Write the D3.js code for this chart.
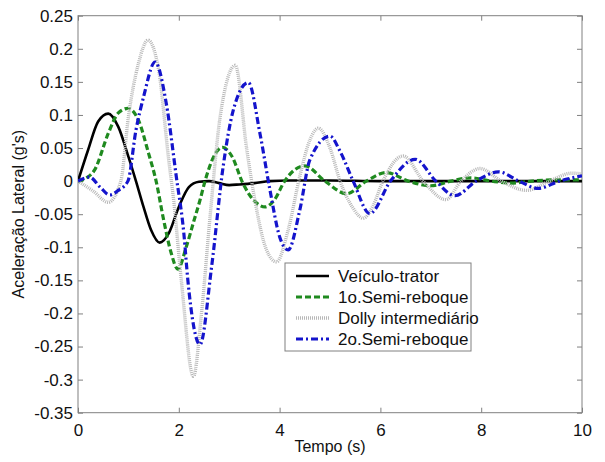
<!DOCTYPE html>
<html><head><meta charset="utf-8">
<script src="https://cdn.jsdelivr.net/npm/d3@7"></script>
<style>body{margin:0;background:#fff}svg{display:block}text{font-family:Arial,"Liberation Sans",sans-serif}</style>
</head><body><svg id="c" width="605" height="462"></svg>
<script>
const xTicks = [0, 2, 4, 6, 8, 10];
const yTicks = [-0.35, -0.3, -0.25, -0.2, -0.15, -0.1, -0.05, 0, 0.05, 0.1, 0.15, 0.2, 0.25];
const yTickLabels = ["-0.35","-0.3","-0.25","-0.2","-0.15","-0.1","-0.05","0","0.05","0.1","0.15","0.2","0.25"];
const seriesNames = ["Veículo-trator", "1o.Semi-reboque", "Dolly intermediário", "2o.Semi-reboque"];

const tTrator = [0, 0.2, 0.4, 0.6, 0.8, 1.0, 1.15, 1.3, 1.45, 1.62, 1.8, 2.0, 2.2, 2.4, 2.6, 2.8, 3.0, 3.2, 3.5, 3.8, 4.2, 5, 6, 7, 8, 9, 10];
const vTrator = [0, 0.047, 0.09, 0.102, 0.082, 0.037, 0, -0.039, -0.074, -0.093, -0.079, -0.039, -0.009, -0.001, 0.0, -0.003, -0.006, -0.005, -0.003, 0, 0.001, 0.001, 0, 0, 0, 0, 0];

const tSemi1 = [0, 0.15, 0.33, 0.6, 0.8, 0.99, 1.2, 1.4, 1.55, 1.7, 1.85, 1.98, 2.15, 2.3, 2.42, 2.52, 2.7, 2.87, 3.05, 3.27, 3.5, 3.71, 3.9, 4.1, 4.5, 4.9, 5.33, 5.72, 6.12, 6.55, 7.0, 7.4, 7.8, 8.2, 8.6, 9.0, 9.5, 10];
const vSemi1 = [0, 0.004, 0.017, 0.072, 0.103, 0.11, 0.092, 0.042, 0, -0.059, -0.109, -0.133, -0.099, -0.06, -0.029, 0, 0.038, 0.051, 0.038, -0.003, -0.03, -0.039, -0.028, 0, 0.023, 0, -0.019, 0, 0.013, 0, -0.007, 0, 0.005, 0, -0.003, 0, 0.002, 0.002];

const tDolly = [0, 0.3, 0.6, 0.85, 1.0, 1.2, 1.39, 1.6, 1.8, 1.9, 2.05, 2.29, 2.45, 2.62, 2.82, 3.12, 3.35, 3.51, 3.74, 3.94, 4.17, 4.4, 4.6, 4.77, 5.0, 5.2, 5.45, 5.66, 5.85, 6.05, 6.45, 6.85, 7.3, 7.6, 7.98, 8.4, 8.9, 9.35, 9.8, 10];
const vDolly = [0, -0.015, -0.032, 0, 0.097, 0.178, 0.213, 0.168, 0.032, -0.03, -0.15, -0.295, -0.2, -0.054, 0.097, 0.175, 0.047, -0.029, -0.104, -0.122, -0.074, 0.007, 0.062, 0.08, 0.05, 0, -0.04, -0.056, -0.038, 0, 0.038, 0, -0.028, 0, 0.019, 0, -0.014, 0, 0.012, 0.011];

const tSemi2 = [0, 0.23, 0.45, 0.63, 0.8, 0.99, 1.15, 1.3, 1.53, 1.75, 1.95, 2.1, 2.18, 2.42, 2.65, 2.88, 3.08, 3.38, 3.61, 3.81, 4.0, 4.17, 4.4, 4.6, 5.0, 5.2, 5.46, 5.79, 6.2, 6.69, 7.1, 7.48, 7.9, 8.34, 8.75, 9.13, 9.55, 10];
const vSemi2 = [0, 0.006, -0.01, -0.021, -0.014, 0, 0.077, 0.127, 0.18, 0.118, 0.007, -0.079, -0.15, -0.247, -0.13, 0.022, 0.107, 0.149, 0.072, -0.014, -0.084, -0.104, -0.044, 0.032, 0.068, 0.045, 0, -0.049, 0, 0.033, 0, -0.022, 0, 0.014, 0, -0.011, 0, 0.008];

const m = {left: 78, right: 582, top: 15.7, bottom: 412.7};
const x = d3.scaleLinear().domain([0, 10]).range([m.left, m.right]);
const y = d3.scaleLinear().domain([-0.35, 0.25]).range([m.bottom, m.top]);
const svg = d3.select("#c");

const axisColor = "#808080";
const tickFont = 17;

const gx = svg.append("g").attr("transform", `translate(0,${m.bottom})`)
  .call(d3.axisBottom(x).tickValues(xTicks).tickSize(-5).tickPadding(11).tickFormat(d3.format("d")));
const gxt = svg.append("g").attr("transform", `translate(0,${m.top})`)
  .call(d3.axisTop(x).tickValues(xTicks).tickSize(-5).tickFormat(""));
const gy = svg.append("g").attr("transform", `translate(${m.left},0)`)
  .call(d3.axisLeft(y).tickValues(yTicks).tickSize(-5).tickPadding(5).tickFormat((d, i) => yTickLabels[i]));
const gyr = svg.append("g").attr("transform", `translate(${m.right},0)`)
  .call(d3.axisRight(y).tickValues(yTicks).tickSize(-5).tickFormat(""));
[gx, gxt, gy, gyr].forEach(g => {
  g.select(".domain").attr("d", null);
  g.selectAll(".tick line").attr("stroke", axisColor);
  g.selectAll(".tick text").attr("fill", "#111").style("font-size", tickFont + "px")
    .attr("font-family", "Arial, 'Liberation Sans', sans-serif");
});
svg.append("rect").attr("x", m.left).attr("y", m.top).attr("width", m.right - m.left).attr("height", m.bottom - m.top)
  .attr("fill", "none").attr("stroke", axisColor).attr("stroke-width", 1);

const styles = [
  {color: "#000000", width: 2.6, dash: null},
  {color: "#1f8a1f", width: 3.2, dash: "6,3"},
  {color: "#b8b8b8", width: 3.4, dash: "1,1"},
  {color: "#1414cc", width: 3.2, dash: "7,3,2,3"}
];
const data = [
  d3.zip(tTrator, vTrator),
  d3.zip(tSemi1, vSemi1),
  d3.zip(tDolly, vDolly),
  d3.zip(tSemi2, vSemi2)
];
const line = d3.line().x(d => x(d[0])).y(d => y(d[1])).curve(d3.curveMonotoneX);
svg.append("clipPath").attr("id", "pc").append("rect")
  .attr("x", m.left).attr("y", m.top).attr("width", m.right - m.left).attr("height", m.bottom - m.top);
[0, 1, 2, 3].forEach(i => {
  svg.append("path").datum(data[i]).attr("d", line).attr("fill", "none")
    .attr("clip-path", "url(#pc)")
    .attr("stroke", styles[i].color).attr("stroke-width", styles[i].width)
    .attr("stroke-dasharray", styles[i].dash).attr("stroke-linejoin", "round");
});

svg.append("text").attr("x", (m.left + m.right) / 2).attr("y", 452).attr("text-anchor", "middle")
  .style("font-size", "16px").attr("fill", "#111").text("Tempo (s)");
svg.append("text").attr("transform", `translate(24,${(m.top + m.bottom) / 2}) rotate(-90)`).attr("text-anchor", "middle")
  .style("font-size", "16px").attr("fill", "#111").text("Aceleração Lateral (g's)");

const lg = svg.append("g");
lg.append("rect").attr("x", 285).attr("y", 263).attr("width", 186).attr("height", 88)
  .attr("fill", "#fff").attr("stroke", axisColor).attr("stroke-width", 1);
const rowY = [276, 297, 318, 339];
seriesNames.forEach((name, i) => {
  lg.append("line").attr("x1", 296).attr("x2", 329).attr("y1", rowY[i]).attr("y2", rowY[i])
    .attr("stroke", styles[i].color).attr("stroke-width", styles[i].width).attr("stroke-dasharray", styles[i].dash);
  lg.append("text").attr("x", 338).attr("y", rowY[i]).attr("dy", "0.35em")
    .style("font-size", "17px").attr("fill", "#111").text(name);
});
</script></body></html>
